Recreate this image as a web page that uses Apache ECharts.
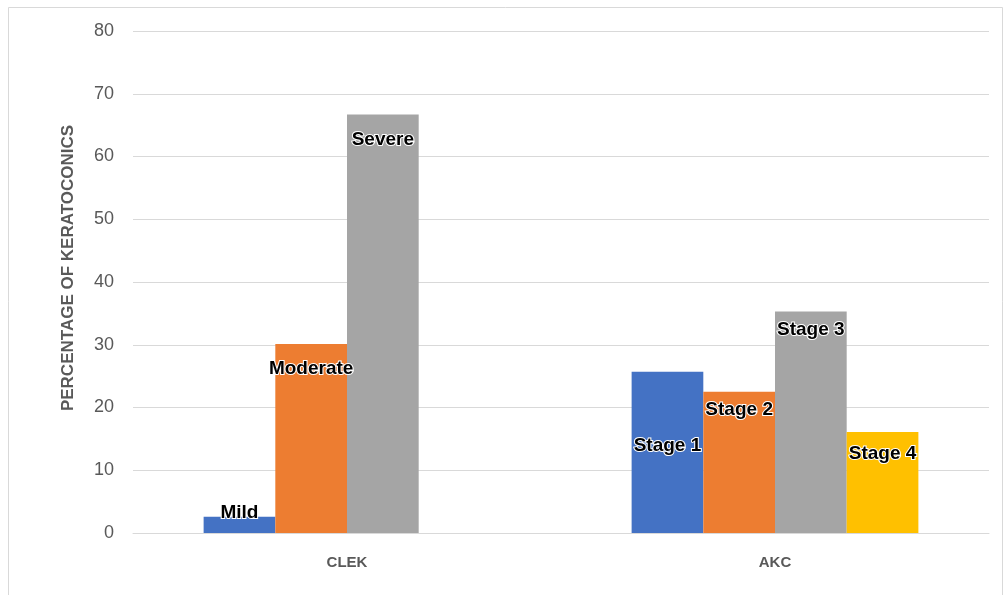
<!DOCTYPE html>
<html>
<head>
<meta charset="utf-8">
<script src="https://cdn.jsdelivr.net/npm/echarts@6/dist/echarts.min.js"></script>
<style>
html,body{margin:0;padding:0;background:#fff;}
#chart{width:1005px;height:595px;}
</style>
</head>
<body>
<div id="chart"></div>
<script>
// ---- data ----
const categories = ['CLEK', 'AKC'];
const series1Values = [2.6, 25.7];
const series1Labels = ['Mild', 'Stage 1'];
const series2Values = [30.1, 22.5];
const series2Labels = ['Moderate', 'Stage 2'];
const series3Values = [66.7, 35.3];
const series3Labels = ['Severe', 'Stage 3'];
const series4Values = [null, 16.1];
const series4Labels = ['', 'Stage 4'];
const yAxisTitle = 'PERCENTAGE OF KERATOCONICS';
const yMin = 0, yMax = 80, yInterval = 10;

// ---- styles (kept separate from data) ----
const colors = ['#4472C4', '#ED7D31', '#A5A5A5', '#FFC000'];
const labelOffsets = [[-13, 65], [15, 8], [16, 9], [0, 12]];

const allValues = [series1Values, series2Values, series3Values, series4Values];
const allLabels = [series1Labels, series2Labels, series3Labels, series4Labels];

const series = allValues.map((vals, si) => ({
  type: 'bar',
  barGap: '0%',
  barCategoryGap: '33%',
  itemStyle: { color: colors[si] },
  data: vals.map((v, ci) => ({
    value: v,
    label: {
      show: v !== null,
      position: 'insideTop',
      distance: 0,
      offset: [0, labelOffsets[si][ci]],
      formatter: allLabels[si][ci],
      color: '#000',
      fontFamily: 'Liberation Sans',
      fontWeight: 'bold',
      fontSize: 19,
      textBorderColor: '#fff',
      textBorderWidth: 2
    }
  })),
  emphasis: { disabled: true }
}));

const chart = echarts.init(document.getElementById('chart'), null, { renderer: 'canvas' });
chart.setOption({
  animation: false,
  backgroundColor: '#fff',
  graphic: [{
    type: 'rect',
    left: 6, top: 5,
    shape: { width: 994, height: 589 },
    style: { fill: 'none', stroke: '#d9d9d9', lineWidth: 1 },
    silent: true
  }],
  grid: { left: 133, right: 16, top: 31, bottom: 62, containLabel: false },
  xAxis: {
    type: 'category',
    data: categories,
    axisLine: { lineStyle: { color: '#d9d9d9', width: 1 } },
    axisTick: { show: false },
    axisLabel: {
      color: '#595959', fontFamily: 'Liberation Sans', fontWeight: 'bold',
      fontSize: 15, margin: 22
    }
  },
  yAxis: {
    type: 'value',
    min: yMin, max: yMax, interval: yInterval,
    name: yAxisTitle,
    nameLocation: 'middle',
    nameGap: 56,
    nameTextStyle: {
      color: '#595959', fontFamily: 'Liberation Sans', fontWeight: 'bold', fontSize: 17,
      padding: [0, 0, 0, 28]
    },
    axisLine: { show: false },
    axisTick: { show: false },
    splitLine: { lineStyle: { color: '#d9d9d9', width: 1 } },
    axisLabel: {
      color: '#595959', fontFamily: 'Liberation Sans', fontSize: 18, margin: 19
    }
  },
  series: series
});
</script>
</body>
</html>
